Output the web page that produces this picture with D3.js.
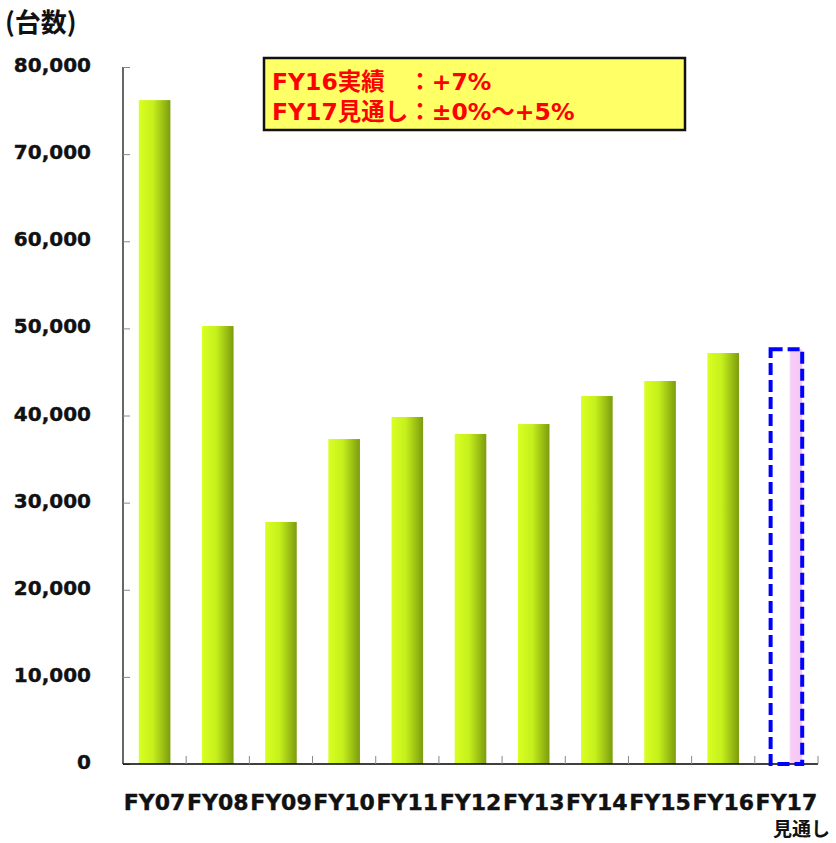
<!DOCTYPE html>
<html><head><meta charset="utf-8">
<script src="https://cdn.jsdelivr.net/npm/d3@7"></script>
<style>body{margin:0;background:#fff}</style>
</head><body>
<svg id="c" width="836" height="843"></svg>
<script>
const categories = ["FY07","FY08","FY09","FY10","FY11","FY12","FY13","FY14","FY15","FY16","FY17"];
const values = [76200, 50270, 27780, 37300, 39830, 37880, 39020, 42240, 43960, 47170, 47600];
const forecastFlags = [false,false,false,false,false,false,false,false,false,false,true];
const yTicks = [0,10000,20000,30000,40000,50000,60000,70000,80000];
const unitLabel = "(台数)";
const forecastSub = "見通し";
const noteLines = ["FY16実績", "：+7%", "FY17見通し", "：±0%～+5%"];

const FONT = "'DejaVu Sans','Noto Sans CJK JP',sans-serif";
const svg = d3.select("#c");
const defs = svg.append("defs");
const g1 = defs.append("linearGradient").attr("id","barG").attr("x1","0").attr("x2","1").attr("y1","0").attr("y2","0");
g1.append("stop").attr("offset","0%").attr("stop-color","#d9ff22");
g1.append("stop").attr("offset","45%").attr("stop-color","#c6f01c");
g1.append("stop").attr("offset","100%").attr("stop-color","#7c9c0e");
const g2 = defs.append("linearGradient").attr("id","fcG").attr("x1","0").attr("x2","1").attr("y1","0").attr("y2","0");
g2.append("stop").attr("offset","0%").attr("stop-color","#ffffff");
g2.append("stop").attr("offset","58%").attr("stop-color","#ffffff");
g2.append("stop").attr("offset","64%").attr("stop-color","#f8ccf6");
g2.append("stop").attr("offset","100%").attr("stop-color","#f6c6f4");

const x = d3.scaleBand().domain(categories).range([123,818]).paddingInner(0.5).paddingOuter(0.25);
const y = d3.scaleLinear().domain([0,80000]).range([764,67]);

// y axis
const ya = svg.append("g").attr("transform","translate(123,0)")
  .call(d3.axisRight(y).tickValues(yTicks).tickSize(7).tickFormat(""));
ya.select(".domain").attr("stroke","#000").attr("stroke-width",1.2).attr("d","M0,"+y(80000)+"V"+y(0));
ya.selectAll(".tick line").attr("stroke","#888");
svg.append("g").selectAll("text").data(yTicks).join("text")
  .attr("x",91).attr("y",d=>y(d)+5).attr("text-anchor","end")
  .attr("font-family",FONT).attr("font-weight","bold").attr("font-size",20).attr("fill","#111")
  .attr("stroke","#111").attr("stroke-width",0.4)
  .text(d=>d3.format(",")(d));

// bars
const data = categories.map((c,i)=>({c, v:values[i], f:forecastFlags[i]}));
svg.append("g").selectAll("rect").data(data.filter(d=>!d.f)).join("rect")
  .attr("x",d=>x(d.c)).attr("width",x.bandwidth())
  .attr("y",d=>y(d.v)).attr("height",d=>y(0)-y(d.v))
  .attr("fill","url(#barG)");
const fc = data.filter(d=>d.f);
svg.append("g").selectAll("rect").data(fc).join("rect")
  .attr("x",d=>x(d.c)).attr("width",x.bandwidth())
  .attr("y",d=>y(d.v)).attr("height",d=>y(0)-y(d.v))
  .attr("fill","url(#fcG)");

// x axis
const xa = svg.append("g").attr("transform","translate(0,"+y(0)+")");
xa.append("line").attr("x1",123).attr("x2",818).attr("stroke","#000").attr("stroke-width",1.5);
const bounds = categories.map(c=>x(c)-x.step()*x.paddingInner()/2).concat([818]);
xa.selectAll("line.t").data(bounds.slice(1)).join("line").attr("class","t")
  .attr("x1",d=>d).attr("x2",d=>d).attr("y1",0).attr("y2",-8).attr("stroke","#888");
svg.append("g").selectAll("text").data(categories).join("text")
  .attr("x",d=>x(d)+x.bandwidth()/2).attr("y",810).attr("text-anchor","middle")
  .attr("font-family",FONT).attr("font-weight","bold").attr("font-size",22).attr("fill","#111")
  .attr("stroke","#111").attr("stroke-width",0.4)
  .text(d=>d);

// forecast dashed box
svg.append("g").selectAll("rect").data(fc).join("rect")
  .attr("x",d=>x(d.c)).attr("width",x.bandwidth())
  .attr("y",d=>y(d.v)).attr("height",d=>y(0)-y(d.v))
  .attr("fill","none").attr("stroke","#0000ff").attr("stroke-width",4).attr("stroke-dasharray","12,5");
svg.append("text").attr("x",830).attr("y",836).attr("text-anchor","end")
  .attr("font-family",FONT).attr("font-weight","bold").attr("font-size",19).attr("fill","#111")
  .text(forecastSub);

// unit label
svg.append("text").attr("x",5).attr("y",32)
  .attr("font-family","'Noto Sans CJK JP',sans-serif").attr("font-weight","bold").attr("font-size",26).attr("fill","#111")
  .text(unitLabel);

// note box
svg.append("rect").attr("x",264).attr("y",58).attr("width",421).attr("height",72)
  .attr("fill","#ffff66").attr("stroke","#111").attr("stroke-width",2.5);
const nt = svg.append("g").attr("font-family",FONT).attr("font-weight","bold").attr("font-size",23.5).attr("fill","#ff0000");
const l2a = nt.append("text").attr("x",272).attr("y",120).text(noteLines[2]);
const w = l2a.node().getComputedTextLength();
nt.append("text").attr("x",272+w).attr("y",120).text(noteLines[3]);
nt.append("text").attr("x",272).attr("y",90).text(noteLines[0]);
nt.append("text").attr("x",272+w).attr("y",90).text(noteLines[1]);
</script>
</body></html>
